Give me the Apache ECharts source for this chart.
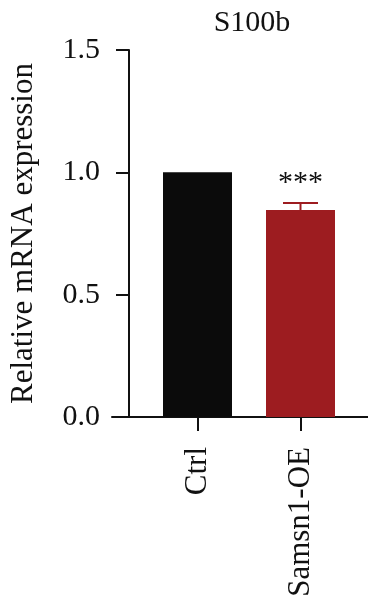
<!DOCTYPE html>
<html>
<head>
<meta charset="utf-8">
<script src="https://cdn.jsdelivr.net/npm/echarts@6/dist/echarts.min.js"></script>
<style>html,body{margin:0;padding:0;background:#fff}#c{width:368px;height:607px}</style>
</head>
<body>
<div id="c"></div>
<script>
var categories = ['Ctrl', 'Samsn1-OE'];
var means = [1.0, 0.846];
var sds = [0, 0.029];
var signif = ['', '***'];
var barColors = ['#0b0b0b', '#9d1c20'];
var titleText = 'S100b';
var yName = 'Relative mRNA expression';

var font = "'Liberation Serif', 'Times New Roman', serif";
var chart = echarts.init(document.getElementById('c'));
var option = {
  animation: false,
  title: {
    text: titleText, left: 247, top: 3, textAlign: 'center',
    textStyle: {fontFamily: font, fontSize: 30, fontWeight: 'normal', color: '#111'}
  },
  grid: [
    {left: 142, right: 16, top: 50, bottom: 190},
    {left: 112, right: 0, top: 50, bottom: 190}
  ],
  xAxis: [
    {
      type: 'category', data: categories, gridIndex: 0,
      axisLine: {show: false},
      axisTick: {show: true, alignWithLabel: true, length: 14, lineStyle: {color: '#111', width: 2}},
      axisLabel: {rotate: 90, margin: 30, fontFamily: font, fontSize: 31, color: '#111'}
    },
    {
      type: 'category', data: [''], gridIndex: 1,
      axisLine: {show: true, lineStyle: {color: '#111', width: 2}},
      axisTick: {show: false}, axisLabel: {show: false}
    }
  ],
  yAxis: [
    {
      type: 'value', gridIndex: 0, min: 0, max: 1.5, interval: 0.5, offset: 17,
      name: yName, nameLocation: 'middle', nameGap: 90,
      nameTextStyle: {fontFamily: font, fontSize: 31, color: '#111'},
      axisLine: {show: true, lineStyle: {color: '#111', width: 2}},
      axisTick: {show: true, length: 13, lineStyle: {color: '#111', width: 2}},
      axisLabel: {margin: 29, fontFamily: font, fontSize: 30, color: '#111',
        formatter: function (v) { return v.toFixed(1); }},
      splitLine: {show: false}
    },
    {type: 'value', gridIndex: 1, min: 0, max: 1.5, show: false}
  ],
  series: [
    {
      type: 'bar', xAxisIndex: 0, yAxisIndex: 0, barWidth: 69,
      data: means.map(function (v, i) { return {value: v, itemStyle: {color: barColors[i]}}; }),
      z: 2
    },
    {
      type: 'custom', xAxisIndex: 0, yAxisIndex: 0, z: 3,
      data: means.map(function (v, i) { return [i, v, sds[i]]; }),
      renderItem: function (params, api) {
        var i = api.value(0), m = api.value(1), s = api.value(2);
        var base = api.coord([i, m]);
        var top = api.coord([i, m + s]);
        var children = [];
        if (s > 0) {
          children.push({type: 'line', shape: {x1: base[0], y1: base[1], x2: top[0], y2: top[1]},
            style: {stroke: barColors[i], lineWidth: 2}});
          children.push({type: 'line', shape: {x1: top[0] - 17.5, y1: top[1], x2: top[0] + 17.5, y2: top[1]},
            style: {stroke: barColors[i], lineWidth: 2}});
        }
        if (signif[i]) {
          children.push({type: 'text', x: top[0], y: top[1] - 5,
            style: {text: signif[i], fontFamily: font, fontSize: 30, fill: '#111', align: 'center', verticalAlign: 'bottom'}});
        }
        return {type: 'group', children: children};
      }
    }
  ]
};
chart.setOption(option);
</script>
</body>
</html>
